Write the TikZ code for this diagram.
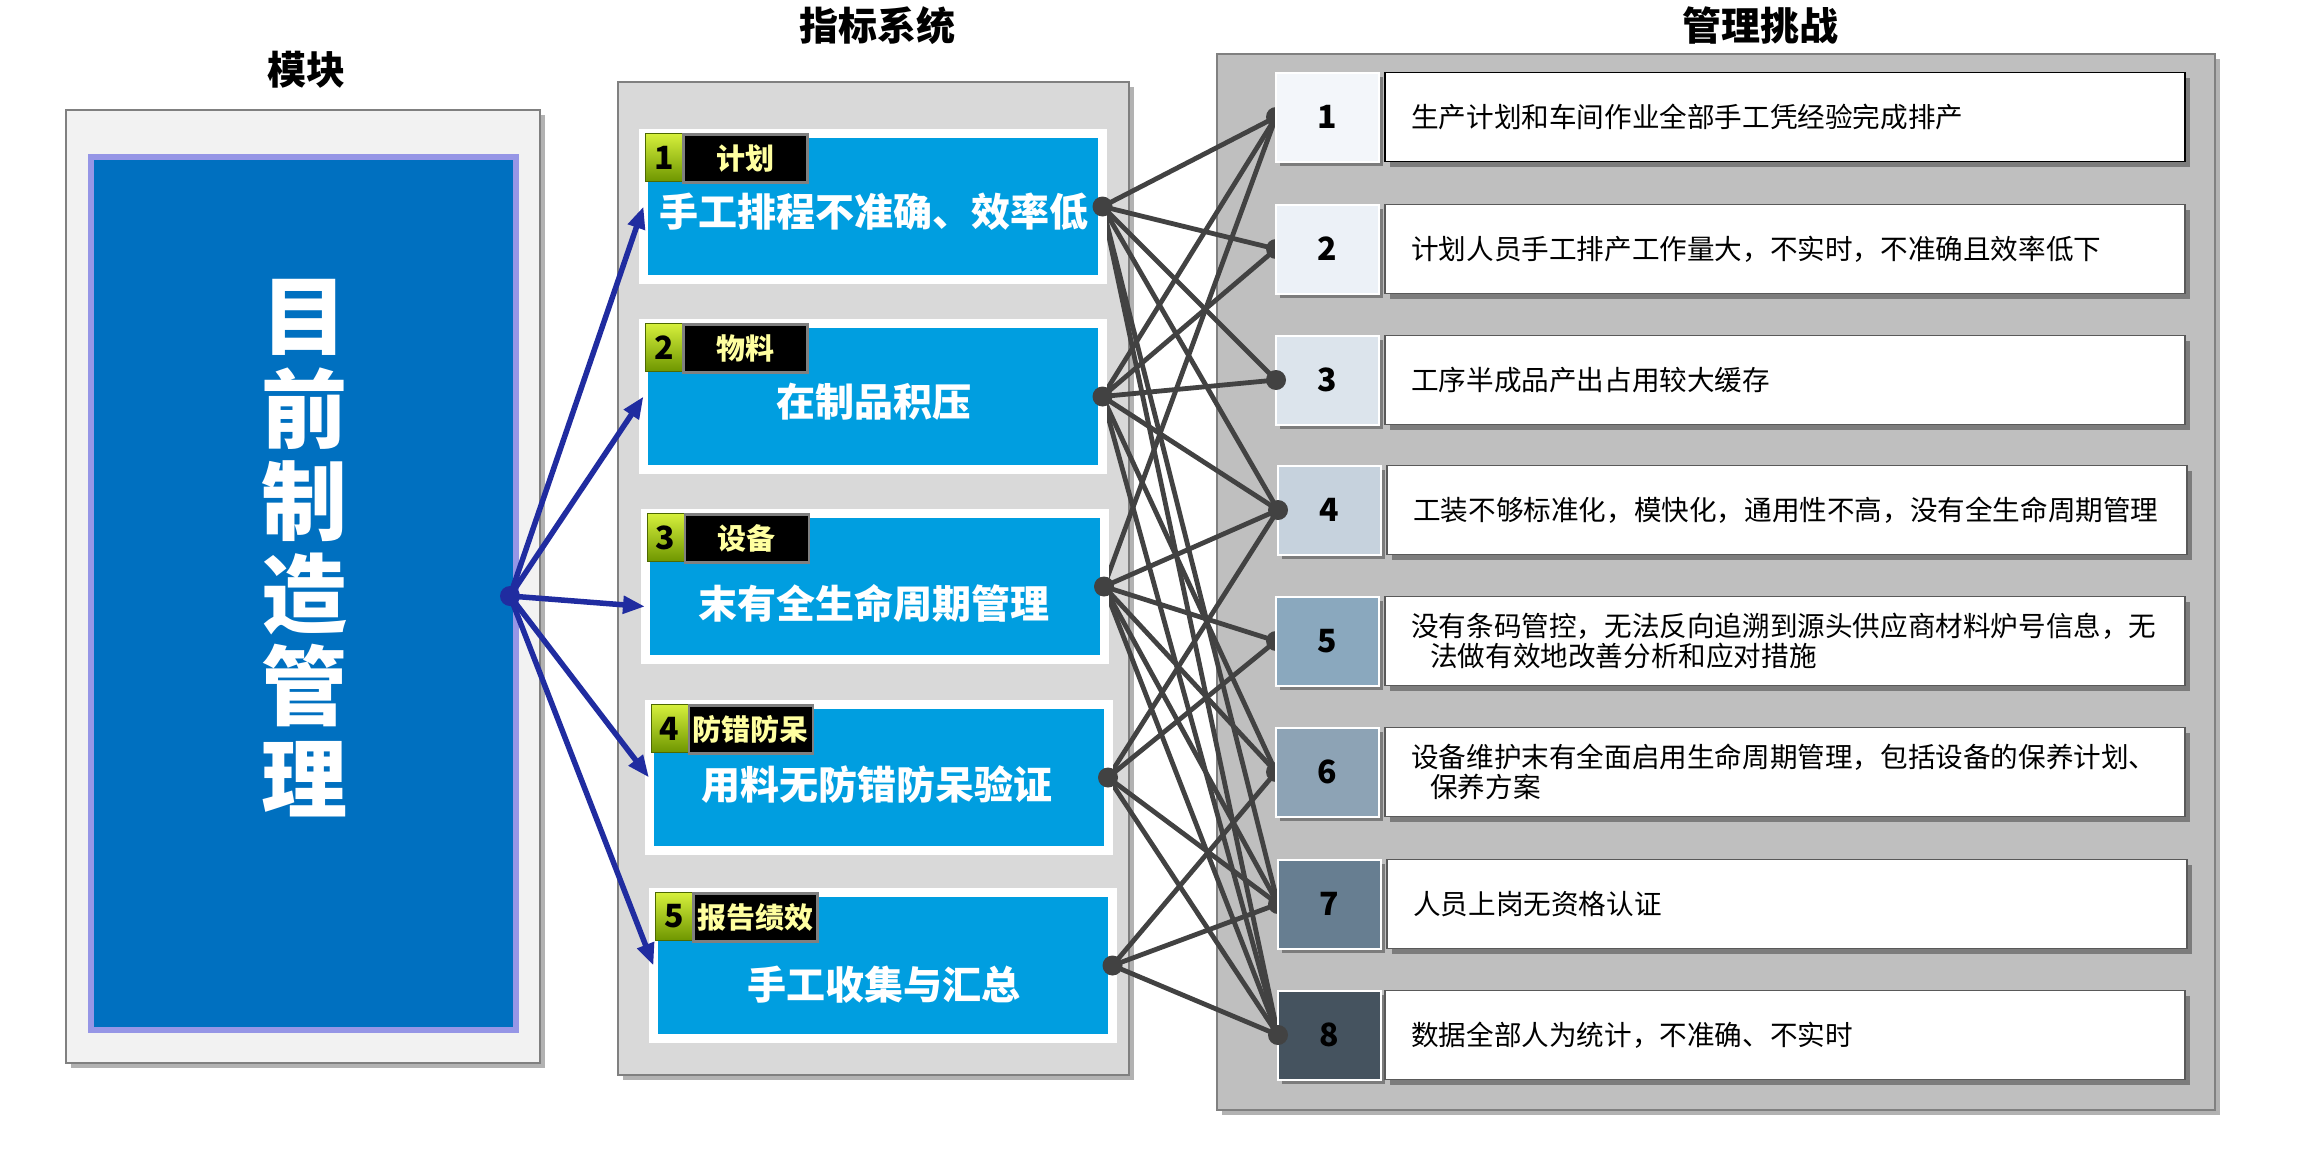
\documentclass[tikz,border=0pt]{standalone}
\usepackage{fontspec}
\newfontfamily\cjk{Noto Sans CJK SC}
\usetikzlibrary{shadows,arrows.meta,calc}
\pgfdeclarelayer{bg}
\pgfdeclarelayer{wires}
\pgfsetlayers{bg,wires,main}
\definecolor{cardblue}{RGB}{0,158,224}
\definecolor{modblue}{RGB}{0,112,192}
\definecolor{navyc}{RGB}{32,44,160}
\definecolor{wirec}{RGB}{66,66,66}
\definecolor{panelL}{RGB}{242,242,242}
\definecolor{panelM}{RGB}{217,217,217}
\definecolor{panelR}{RGB}{191,191,191}
\definecolor{framegray}{RGB}{128,128,128}
\definecolor{lav}{RGB}{150,150,230}
\definecolor{badgeyellow}{RGB}{255,255,160}
\definecolor{greenA}{RGB}{214,240,60}
\definecolor{greenB}{RGB}{110,150,0}
\definecolor{nA}{RGB}{243,246,250}
\definecolor{nB}{RGB}{236,241,247}
\definecolor{nC}{RGB}{220,228,236}
\definecolor{nD}{RGB}{198,210,221}
\definecolor{nE}{RGB}{138,168,190}
\definecolor{nF}{RGB}{141,163,181}
\definecolor{nG}{RGB}{103,126,145}
\definecolor{nH}{RGB}{69,83,95}
\tikzset{
  shad/.style={drop shadow={shadow xshift=5pt,shadow yshift=-5pt,opacity=0.3,fill=black}},
  panel/.style={draw=framegray,line width=2.5pt,inner sep=0,outer sep=0,shad},
  card/.style={draw=white,line width=9pt,fill=cardblue,minimum width=459pt,minimum height=146pt,inner sep=0,outer sep=0,drop shadow={shadow xshift=3pt,shadow yshift=-4pt,opacity=0.3,fill=black}},
  maintext/.style={text=white,font=\cjk\bfseries\fontsize{39}{44}\selectfont,inner sep=0},
  gbadge/.style={anchor=north west,minimum width=37pt,minimum height=48pt,inner sep=0,top color=greenA,bottom color=greenB,draw=greenB!70!black,line width=1pt,text=black,font=\cjk\bfseries\fontsize{32}{32}\selectfont},
  kbadge/.style={anchor=north west,minimum width=124pt,minimum height=48pt,inner sep=0,fill=black,draw=gray,line width=2.5pt,text=badgeyellow,font=\cjk\bfseries\fontsize{29}{29}\selectfont},
  title/.style={font=\cjk\bfseries\fontsize{39}{39}\selectfont,text=black,inner sep=0},
  numbox/.style={minimum width=103pt,minimum height=89pt,inner sep=0,outer sep=0,draw=white,line width=2pt,text=black,font=\cjk\bfseries\fontsize{32}{32}\selectfont,drop shadow={shadow xshift=4pt,shadow yshift=-4pt,opacity=0.35,fill=black}},
  txtbox/.style={minimum width=800pt,minimum height=89pt,inner sep=0,outer sep=0,fill=white,draw=black!65,line width=1.5pt,drop shadow={shadow xshift=5pt,shadow yshift=-5pt,opacity=0.35,fill=black}},
  rowtext/.style={anchor=west,align=left,inner sep=0,text=black,font=\cjk\fontsize{27.6}{30}\selectfont},
  navyarrow/.style={draw=navyc,line width=5.5pt,-{Triangle[length=22pt,width=17pt]}},
  wire/.style={draw=wirec,line width=4.8pt},
  wdot/.style={fill=wirec}
}
\begin{document}
\begin{tikzpicture}[x=1pt,y=-1pt]
\useasboundingbox (0,0) rectangle (2300,1167);
\begin{pgfonlayer}{bg}
\fill[white] (0,0) rectangle (2300,1167);
\node[panel,fill=panelL,minimum width=474pt,minimum height=953pt] (pl) at (303,586.5) {};
\node[panel,fill=panelM,minimum width=511pt,minimum height=993pt] (pm) at (873.5,578.5) {};
\node[panel,fill=panelR,minimum width=998pt,minimum height=1056pt] (pr) at (1716,582) {};
\end{pgfonlayer}

% titles
\node[title] (h1) at (306,70) {模块};
\node[title] (h2) at (877,26) {指标系统};
\node[title] (h3) at (1760,26) {管理挑战};

% module box
\node[fill=modblue,draw=lav,line width=6pt,minimum width=425pt,minimum height=873pt,inner sep=0,outer sep=0] (mod) at (303.5,593.5) {};
\node[align=center,text=white,inner sep=0,font=\cjk\bfseries\fontsize{86}{92.5}\selectfont] (vt) at (304,548) {目\\前\\制\\造\\管\\理};

% cards
\node[card] (k1) at (873,206.5) {};
\node[card] (k2) at (873,396.5) {};
\node[card] (k3) at (874.5,586.5) {};
\node[card] (k4) at (878.5,777.5) {};
\node[card] (k5) at (883,965.5) {};

\node[gbadge] (g1) at (645,133) {1};
\node[kbadge] (b1) at (682,133) {计划};
\node[gbadge] (g2) at (645,323) {2};
\node[kbadge] (b2) at (682,323) {物料};
\node[gbadge] (g3) at (646.5,513) {3};
\node[kbadge] (b3) at (683.5,513) {设备};
\node[gbadge] (g4) at (650.5,704) {4};
\node[kbadge] (b4) at (687.5,704) {防错防呆};
\node[gbadge] (g5) at (655,892) {5};
\node[kbadge] (b5) at (692,892) {报告绩效};

\node[maintext] (t1) at (874,212) {手工排程不准确、效率低};
\node[maintext] (t2) at (874,402) {在制品积压};
\node[maintext] (t3) at (874,603) {末有全生命周期管理};
\node[maintext] (t4) at (877,785) {用料无防错防呆验证};
\node[maintext] (t5) at (884,985) {手工收集与汇总};

% right rows
\node[numbox,fill=nA] (n1) at (1327.5,117) {1};
\node[numbox,fill=nB] (n2) at (1327.5,249) {2};
\node[numbox,fill=nC] (n3) at (1327.5,380) {3};
\node[numbox,fill=nD] (n4) at (1329.5,510) {4};
\node[numbox,fill=nE] (n5) at (1327.5,641) {5};
\node[numbox,fill=nF] (n6) at (1327.5,772) {6};
\node[numbox,fill=nG] (n7) at (1329.5,904) {7};
\node[numbox,fill=nH] (n8) at (1329.5,1035) {8};

\node[txtbox,draw=black] (x1) at (1785,117) {};
\node[txtbox] (x2) at (1785,249) {};
\node[txtbox] (x3) at (1785,380) {};
\node[txtbox] (x4) at (1787,510) {};
\node[txtbox] (x5) at (1785,641) {};
\node[txtbox] (x6) at (1785,772) {};
\node[txtbox] (x7) at (1787,904) {};
\node[txtbox] (x8) at (1785,1035) {};

\node[rowtext] (y1) at (1411,117) {生产计划和车间作业全部手工凭经验完成排产};
\node[rowtext] (y2) at (1411,249) {计划人员手工排产工作量大，不实时，不准确且效率低下};
\node[rowtext] (y3) at (1411,380) {工序半成品产出占用较大缓存};
\node[rowtext] (y4) at (1413,510) {工装不够标准化，模快化，通用性不高，没有全生命周期管理};
\node[rowtext] (y5) at (1411,641) {没有条码管控，无法反向追溯到源头供应商材料炉号信息，无\\\hspace*{19pt}法做有效地改善分析和应对措施};
\node[rowtext] (y6) at (1411,772) {设备维护末有全面启用生命周期管理，包括设备的保养计划、\\\hspace*{19pt}保养方案};
\node[rowtext] (y7) at (1413,904) {人员上岗无资格认证};
\node[rowtext] (y8) at (1411,1035) {数据全部人为统计，不准确、不实时};

% arrows from hub
\coordinate (hub) at (510,596);
\draw[navyarrow] (hub) -- (k1.west);
\draw[navyarrow] (hub) -- (k2.west);
\draw[navyarrow] (hub) -- ($(k3.west)+(0,20)$);
\draw[navyarrow] (hub) -- (k4.west);
\draw[navyarrow] (hub) -- (k5.west);
\fill[navyc] (hub) circle (10);

% wires
\begin{pgfonlayer}{wires}
\foreach \a/\b in {k1/n1,k1/n2,k1/n3,k1/n4,k1/n7,k1/n8,
                   k2/n1,k2/n2,k2/n3,k2/n4,k2/n6,k2/n8,
                   k3/n1,k3/n4,k3/n5,k3/n6,k3/n7,k3/n8,
                   k4/n4,k4/n5,k4/n7,k4/n8,
                   k5/n6,k5/n7,k5/n8}
  \draw[wire] (\a.east) -- (\b.west);
\foreach \b in {n1,n2,n5,n6,n7}
  \fill[wdot] (\b.west) circle (10);
\end{pgfonlayer}
\foreach \a in {k1,k2,k3,k4,k5}
  \fill[wdot] (\a.east) circle (10);
\foreach \b in {n3,n4,n8}
  \fill[wdot] (\b.west) circle (10);
\end{tikzpicture}
\end{document}
